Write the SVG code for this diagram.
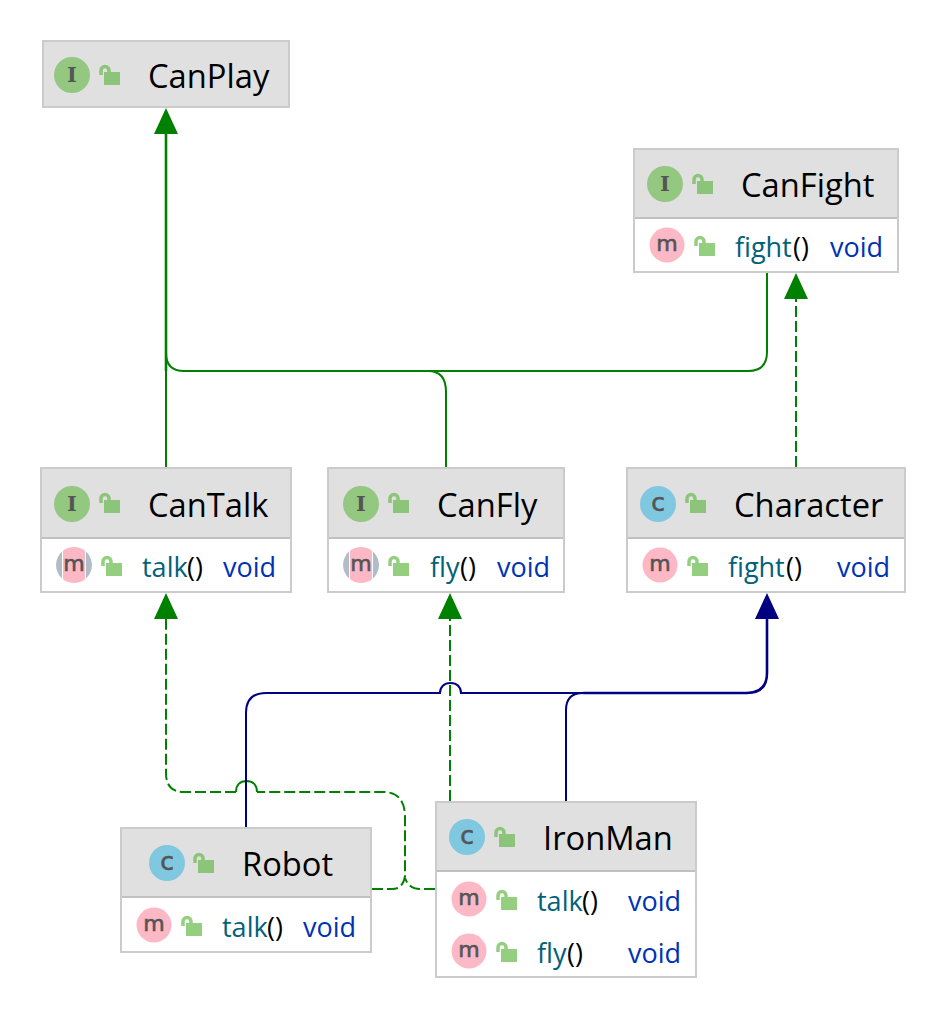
<svg xmlns="http://www.w3.org/2000/svg" width="948" height="1020" viewBox="0 0 948 1020">
<style>
text{font-family:"Open Sans","Noto Sans","Liberation Sans",sans-serif}
.box{fill:#fff;stroke:#cbcbcb;stroke-width:2}
.hd{fill:#e0e0e0}
.sep{stroke:#c0c0c0;stroke-width:2}
.t{font-size:32.700px;fill:#000}
.n{font-size:27px;fill:#00627a}
.p{font-size:27px;fill:#000}
.r{font-size:27px;fill:#0033b3}
.b{font-family:"DejaVu Sans",sans-serif;font-size:22px;fill:#555;stroke:#555;stroke-width:.6;text-anchor:middle}
.k{font-size:25px}
.bi{font-family:"DejaVu Serif","Liberation Serif",serif;font-weight:bold;font-size:21px;fill:#555;text-anchor:middle}
.ci{fill:#94c780}.cc{fill:#80c7e0}.cm{fill:#fdb8c6}
.g{fill:none;stroke:#008000;stroke-width:2}
.gw{fill:none;stroke:#008000;stroke-width:2.600}
.gd{fill:none;stroke:#008000;stroke-width:2;stroke-dasharray:11 4}
.v{fill:none;stroke:#000080;stroke-width:2}
.vw{fill:none;stroke:#000080;stroke-width:2.600}
.dg{fill:#b1bcc6}
</style>
<defs>
<g id="lock"><rect x="5" y="7" width="16" height="13" fill="#8cc47a"/><path d="M2 10V5.500a4 4 0 0 1 8 0V7" fill="none" stroke="#8cc47a" stroke-width="3.500"/></g>
<g id="lockw"><rect x="5" y="7" width="16" height="13" fill="#94cf80"/><path d="M2 10V5.500a4 4 0 0 1 8 0V7" fill="none" stroke="#94cf80" stroke-width="3.500"/></g>
</defs>
<g id="connectors">
<path class="g" d="M166 467V371"/>
<path class="gw" d="M166 371V132"/>
<path class="g" d="M446 467V392Q446 371 428 371H184Q166 371 166 353"/>
<path class="g" d="M767 273V352Q767 371 748 371H184"/>
<path class="gd" d="M796 467V298"/>
<path class="gd" d="M372 889H392Q403 889 405 876V817Q405 792 383 792H257"/>
<path class="gd" d="M236 792H184Q166 792 166 773V618"/>
<path class="g" d="M236 792C236 785 240 781 246.500 781S257 785 257 792"/>
<path class="gd" d="M435 889H420Q409 889 405 878"/>
<path class="gd" d="M450 801V618"/>
<path class="v" d="M246 827V713Q246 693 266 693H440C440 687 444 683 450.500 683S461 687 461 693H583"/>
<path class="v" d="M566 801V710Q566 693 583 693"/>
<path class="vw" d="M583 693H747Q767 693 767 673V617"/>
<path d="M166 108l12 26h-24zM166 593l12 26h-24zM450 593l12 26h-24zM796 273l12 26h-24z" fill="#008000"/>
<path d="M767 593l12 26h-24z" fill="#000080"/>
</g>
<g id="CanPlay"><rect class="box" x="43" y="41" width="246" height="66" style="fill:#e0e0e0"/><circle class="ci" cx="72" cy="75" r="18"/><text class="bi" x="72" y="82">I</text><use href="#lock" x="99" y="65"/><text class="t" x="148" y="88">CanPlay</text></g>
<g id="CanFight"><rect class="box" x="634" y="149" width="264" height="123"/><rect class="hd" x="635" y="150" width="262" height="67"/><line class="sep" x1="635" y1="218" x2="897" y2="218"/><circle class="ci" cx="665" cy="184" r="18"/><text class="bi" x="665" y="191">I</text><use href="#lock" x="692" y="174"/><text class="t" x="741" y="197">CanFight</text><circle class="cm" cx="667" cy="245" r="17.500"/><text class="b" x="667" y="251">m</text><use href="#lockw" x="694" y="236"/><text class="n" x="735" y="257">fight</text><text class="p" x="793" y="257">()</text><text class="r" x="830" y="257">void</text></g>
<g id="CanTalk"><rect class="box" x="41" y="468" width="250" height="124"/><rect class="hd" x="42" y="469" width="248" height="68"/><line class="sep" x1="42" y1="538" x2="290" y2="538"/><circle class="ci" cx="72" cy="504" r="18"/><text class="bi" x="72" y="511">I</text><use href="#lock" x="99" y="493"/><text class="t" x="148" y="517">CanTalk</text><path class="dg" d="M62 551.600A18 18 0 0 0 62 578.400ZM86 551.600A18 18 0 0 1 86 578.400Z"/><path class="cm" d="M63 550.750A18 18 0 0 1 85 550.750V579.250A18 18 0 0 1 63 579.250Z"/><text class="b" x="74" y="571">m</text><use href="#lockw" x="101" y="556"/><text class="n" x="142" y="577">talk</text><text class="p" x="187" y="577">()</text><text class="r" x="223" y="577">void</text></g>
<g id="CanFly"><rect class="box" x="328" y="468" width="236" height="124"/><rect class="hd" x="329" y="469" width="234" height="68"/><line class="sep" x1="329" y1="538" x2="563" y2="538"/><circle class="ci" cx="361" cy="504" r="18"/><text class="bi" x="361" y="511">I</text><use href="#lock" x="388" y="493"/><text class="t" x="437" y="517">CanFly</text><path class="dg" d="M349 551.600A18 18 0 0 0 349 578.400ZM373 551.600A18 18 0 0 1 373 578.400Z"/><path class="cm" d="M350 550.750A18 18 0 0 1 372 550.750V579.250A18 18 0 0 1 350 579.250Z"/><text class="b" x="361" y="571">m</text><use href="#lockw" x="388" y="556"/><text class="n" x="430" y="577">fly</text><text class="p" x="460" y="577">()</text><text class="r" x="497" y="577">void</text></g>
<g id="Character"><rect class="box" x="627" y="468" width="278" height="124"/><rect class="hd" x="628" y="469" width="276" height="68"/><line class="sep" x1="628" y1="538" x2="904" y2="538"/><circle class="cc" cx="658" cy="504" r="18"/><text class="b k" x="658" y="511">c</text><use href="#lock" x="685" y="493"/><text class="t" x="734" y="517">Character</text><circle class="cm" cx="660" cy="565" r="17.500"/><text class="b" x="660" y="571">m</text><use href="#lockw" x="687" y="556"/><text class="n" x="728" y="577">fight</text><text class="p" x="786" y="577">()</text><text class="r" x="837" y="577">void</text></g>
<g id="Robot"><rect class="box" x="121" y="828" width="250" height="124"/><rect class="hd" x="122" y="829" width="248" height="67"/><line class="sep" x1="122" y1="897" x2="370" y2="897"/><circle class="cc" cx="167" cy="863" r="18"/><text class="b k" x="167" y="870">c</text><use href="#lock" x="193" y="853"/><text class="t" x="242" y="876">Robot</text><circle class="cm" cx="154" cy="925" r="17.500"/><text class="b" x="154" y="931">m</text><use href="#lockw" x="181" y="916"/><text class="n" x="222" y="937">talk</text><text class="p" x="267" y="937">()</text><text class="r" x="303" y="937">void</text></g>
<g id="IronMan"><rect class="box" x="436" y="802" width="260" height="175"/><rect class="hd" x="437" y="803" width="258" height="67"/><line class="sep" x1="437" y1="871" x2="695" y2="871"/><circle class="cc" cx="467" cy="837" r="18"/><text class="b k" x="467" y="844">c</text><use href="#lock" x="494" y="827"/><text class="t" x="543" y="850">IronMan</text><circle class="cm" cx="469" cy="899" r="17.500"/><text class="b" x="469" y="905">m</text><use href="#lockw" x="496" y="890"/><text class="n" x="537" y="911">talk</text><text class="p" x="582" y="911">()</text><text class="r" x="628" y="911">void</text><circle class="cm" cx="469" cy="951" r="17.500"/><text class="b" x="469" y="957">m</text><use href="#lockw" x="496" y="942"/><text class="n" x="537" y="963">fly</text><text class="p" x="567" y="963">()</text><text class="r" x="628" y="963">void</text></g>
</svg>
